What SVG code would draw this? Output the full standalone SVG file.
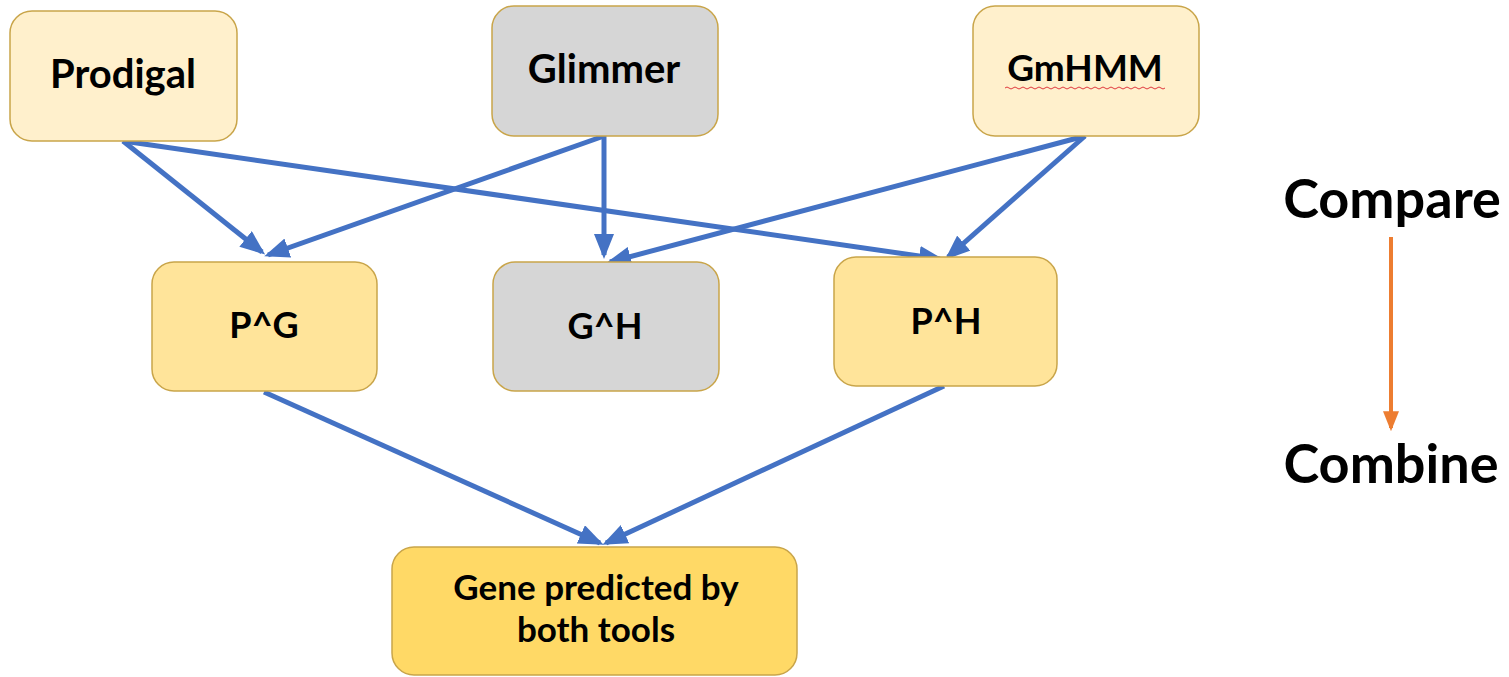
<svg xmlns="http://www.w3.org/2000/svg" width="1509" height="677" viewBox="0 0 1509 677">
<defs>
<style>
.box{stroke:#C9A54A;stroke-width:1.5}
.light{fill:#FFF0CC}
.grey{fill:#D6D6D6}
.mid{fill:#FFE49A}
.dark{fill:#FFD966}
.t{font-family:Lato,"Liberation Sans",sans-serif;font-weight:bold;fill:#000;text-anchor:middle}
.edge{stroke:#4472C4;stroke-width:5;fill:none;marker-end:url(#ab)}
</style>
<marker id="ab" markerWidth="5" markerHeight="4" refX="4.2" refY="2" orient="auto" markerUnits="strokeWidth">
<path d="M0,0 L5,2 L0,4 z" fill="#4472C4"/>
</marker>
<marker id="ao" markerWidth="5" markerHeight="4" refX="4.2" refY="2" orient="auto" markerUnits="strokeWidth">
<path d="M0,0 L5,2 L0,4 z" fill="#ED7D31"/>
</marker>
</defs>
<g id="connectors">
<line class="edge" x1="123" y1="141" x2="262" y2="252"/>
<line class="edge" x1="123" y1="141" x2="940" y2="259"/>
<line class="edge" x1="604" y1="136" x2="268" y2="255"/>
<line class="edge" x1="604" y1="136" x2="604" y2="255"/>
<line class="edge" x1="1085" y1="136" x2="610" y2="262"/>
<line class="edge" x1="1085" y1="136" x2="948" y2="257"/>
<line class="edge" x1="264" y1="392" x2="600" y2="543"/>
<line class="edge" x1="944" y1="386" x2="606" y2="543"/>
<line x1="1391" y1="237" x2="1391" y2="428" stroke="#ED7D31" stroke-width="4" marker-end="url(#ao)"/>
</g>
<g id="prodigal">
<rect class="box light" x="10" y="11" width="227" height="130" rx="22"/>
<text class="t" x="123" y="88" font-size="40">Prodigal</text>
</g>
<g id="glimmer">
<rect class="box grey" x="492" y="6" width="226" height="130" rx="22"/>
<text class="t" x="604" y="83" font-size="40">Glimmer</text>
</g>
<g id="gmhmm">
<rect class="box light" x="973" y="6" width="226" height="130" rx="22"/>
<text class="t" x="1085" y="81" font-size="37">GmHMM</text>
<path d="M1005,88 q2,-2 4,0 t4,0 t4,0 t4,0 t4,0 t4,0 t4,0 t4,0 t4,0 t4,0 t4,0 t4,0 t4,0 t4,0 t4,0 t4,0 t4,0 t4,0 t4,0 t4,0 t4,0 t4,0 t4,0 t4,0 t4,0 t4,0 t4,0 t4,0 t4,0 t4,0 t4,0 t4,0 t4,0 t4,0 t4,0 t4,0 t4,0 t4,0 t4,0 t4,0" stroke="#E0393E" stroke-width="1" fill="none"/>
</g>
<g id="pg">
<rect class="box mid" x="152" y="262" width="225" height="129" rx="22"/>
<text class="t" x="264" y="338" font-size="36">P^G</text>
</g>
<g id="gh">
<rect class="box grey" x="493" y="262" width="226" height="129" rx="22"/>
<text class="t" x="605" y="339" font-size="36">G^H</text>
</g>
<g id="ph">
<rect class="box mid" x="834" y="257" width="223" height="129" rx="22"/>
<text class="t" x="946" y="334" font-size="36">P^H</text>
</g>
<g id="gene">
<rect class="box dark" x="392" y="547" width="405" height="128" rx="22"/>
<text class="t" x="596" y="600" font-size="35">Gene predicted by</text>
<text class="t" x="596" y="642" font-size="35">both tools</text>
</g>
<g id="compare">
<text class="t" x="1392" y="218" font-size="54">Compare</text>
</g>
<g id="combine">
<text class="t" x="1391" y="483" font-size="54">Combine</text>
</g>
</svg>
